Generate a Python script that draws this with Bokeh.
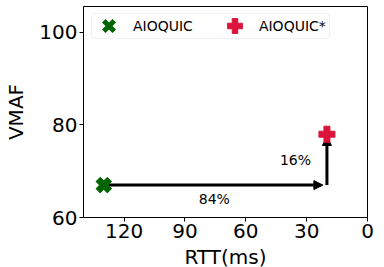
import numpy as np
from bokeh.plotting import figure
from bokeh.models import Range1d, FixedTicker, Arrow, NormalHead, Legend, LegendItem, BoxAnnotation
from bokeh.core.properties import value
from bokeh.embed import file_html
from bokeh.resources import INLINE

series = ["AIOQUIC", "AIOQUIC*"]
rtt = [130, 20]
vmaf = [67, 78]
colors = ["#006400", "#DC143C"]
x_ticks = [120, 90, 60, 30, 0]
y_ticks = [60, 80, 100]
notes = ["84%", "16%"]
note_x = [75.5, 35.5]
note_y = [64.1, 72.5]

FONT = "DejaVu Sans"

p = figure(frame_width=284, frame_height=211,
           min_border_left=83, min_border_right=17, min_border_top=6, min_border_bottom=50,
           x_range=Range1d(140, 0), y_range=Range1d(60, 105.6),
           output_backend="svg", toolbar_location=None,
           background_fill_color="white", border_fill_color="white")

p.xgrid.visible = False
p.ygrid.visible = False
p.outline_line_color = "black"
p.outline_line_width = 1
p.outline_line_alpha = 1

for ax, ticks, lab in ((p.xaxis, x_ticks, "RTT(ms)"), (p.yaxis, y_ticks, "VMAF")):
    ax.ticker = FixedTicker(ticks=ticks)
    ax.axis_label = lab
    ax.axis_label_text_font = FONT
    ax.axis_label_text_font_size = "20px"
    ax.axis_label_text_font_style = "normal"
    ax.axis_label_text_color = "black"
    ax.major_label_text_font = FONT
    ax.major_label_text_font_size = "20px"
    ax.major_label_text_color = "black"
    ax.major_tick_in = 0
    ax.major_tick_out = 4
    ax.major_tick_line_color = "black"
    ax.minor_tick_in = 0
    ax.minor_tick_out = 0
    ax.axis_line_color = "black"
    ax.major_label_standoff = 2

p.xaxis.axis_label_standoff = 4
p.yaxis.axis_label_standoff = 8

# arrows
head_kw = dict(fill_color="black", line_color="black", line_width=1, size=9)
a1 = Arrow(x_start=rtt[0], y_start=vmaf[0], x_end=rtt[1] + 2, y_end=vmaf[0],
           line_width=3, line_color="black", end=NormalHead(**head_kw), level="underlay")
a2 = Arrow(x_start=rtt[1], y_start=vmaf[0], x_end=rtt[1], y_end=vmaf[1] - 0.5,
           line_width=3, line_color="black", end=NormalHead(**head_kw), level="underlay")
p.add_layout(a1)
p.add_layout(a2)

# thick-x glyph used for the legend entry (hidden beneath the filled X below)
r0_leg = p.scatter(x=[rtt[0]], y=[vmaf[0]], marker="x", size=8, line_width=5,
                   line_color=colors[0])
r0 = p.scatter(x=[rtt[0]], y=[vmaf[0]], marker="plus", angle=np.pi / 4, size=16,
               fill_color=colors[0], line_color=colors[0])
r1 = p.scatter(x=[rtt[1]], y=[vmaf[1]], marker="plus", size=16,
               fill_color=colors[1], line_color=colors[1])

p.text(x=note_x, y=note_y, text=notes, text_font=value(FONT), text_font_size="14px",
       text_align="center", text_baseline="middle", text_color="black")

# legend frame
box = BoxAnnotation(left=136.06, right=18.73, top=104.1, bottom=98.7,
                    fill_color="white", fill_alpha=0.8, line_color="#cccccc", line_width=1,
                    border_radius=3)
p.add_layout(box)

legend = Legend(items=[LegendItem(label=series[0], renderers=[r0_leg]),
                       LegendItem(label=series[1], renderers=[r1])],
                orientation="horizontal", location=(7, 173), margin=0, padding=0,
                glyph_width=37, glyph_height=37, label_standoff=6, spacing=23,
                label_text_font=FONT, label_text_font_size="14px", label_text_color="black",
                border_line_alpha=0, background_fill_alpha=0)
p.add_layout(legend)

open("out.html", "w").write(file_html(p, INLINE))
